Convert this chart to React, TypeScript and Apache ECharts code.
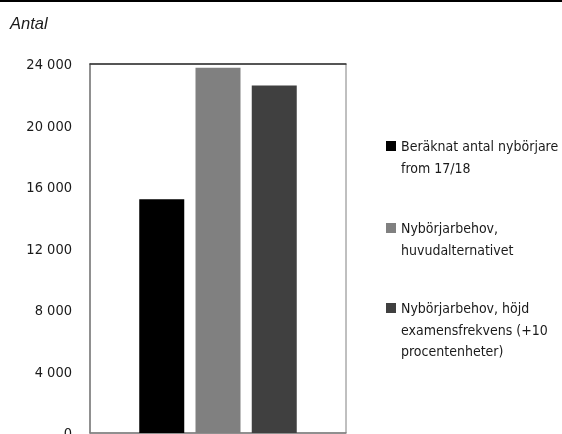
import React, { useEffect, useRef } from "react";
import * as echarts from "echarts";

const categories = [""];
const seriesNames = [
  "Beräknat antal nybörjare from 17/18",
  "Nybörjarbehov, huvudalternativet",
  "Nybörjarbehov, höjd examensfrekvens (+10 procentenheter)",
];
const legendLines = [
  ["Beräknat antal nybörjare", "from 17/18"],
  ["Nybörjarbehov,", "huvudalternativet"],
  ["Nybörjarbehov, höjd", "examensfrekvens (+10", "procentenheter)"],
];
const values = [15200, 23750, 22600];
const colors = ["#000000", "#808080", "#404040"];
const yTicks = { min: 0, max: 24000, interval: 4000 };
const yTitle = "Antal";

const FONT = "'Liberation Sans Narrow', 'DejaVu Sans Condensed', 'Roboto Condensed', 'Liberation Sans', Arial, sans-serif";
const LH = 21.5;
const legendCenters = [146, 228, 308];

export default function App() {
  const ref = useRef<HTMLDivElement>(null);
  useEffect(() => {
    document.body.style.margin = "0";
    const chart = echarts.init(ref.current!, null, { renderer: "svg" });
    const fmtNum = (v: number) => String(v).replace(/\B(?=(\d{3})+(?!\d))/g, " ");
    chart.setOption({
      animation: false,
      grid: {
        left: 90,
        right: 216,
        top: 64,
        bottom: 1,
        show: true,
        borderColor: "#808080",
        borderWidth: 1,
        containLabel: false,
        outerBoundsMode: "none",
      },
      graphic: [
        {
          type: "line",
          shape: { x1: 0, y1: 1, x2: 562, y2: 1 },
          style: { stroke: "#000", lineWidth: 2 },
        },
        {
          type: "text",
          left: 10,
          top: 14,
          style: {
            text: yTitle,
            font: "italic 16.5px 'Liberation Sans', Arial, sans-serif",
            fill: "#1a1a1a",
          },
        },
      ],
      legend: seriesNames.map((name, i) => {
        const n = legendLines[i].length;
        return {
          data: [name],
          left: 386,
          top: legendCenters[i] - (2 * n - 1) * (LH / 2),
          padding: 0,
          itemWidth: 10,
          itemHeight: 10,
          itemGap: 0,
          icon: "rect",
          selectedMode: false,
          formatter: () => "\n".repeat(n - 1) + legendLines[i].join("\n"),
          textStyle: {
            fontFamily: FONT,
            fontSize: 14,
            color: "#1a1a1a",
            lineHeight: LH,
          },
        };
      }),
      xAxis: [
        {
          type: "category",
          data: categories,
          axisLine: { show: true, lineStyle: { color: "#808080", width: 1.5 } },
          axisTick: { show: false },
          axisLabel: { show: false },
        },
        {
          type: "category",
          data: categories,
          position: "top",
          axisLine: { show: true, lineStyle: { color: "#333333", width: 1.5 } },
          axisTick: { show: false },
          axisLabel: { show: false },
        },
      ],
      yAxis: {
        type: "value",
        min: yTicks.min,
        max: yTicks.max,
        interval: yTicks.interval,
        axisLine: { show: true, lineStyle: { color: "#808080", width: 1.5 } },
        axisTick: { show: false },
        splitLine: { show: false },
        axisLabel: {
          margin: 18,
          fontFamily: FONT,
          fontSize: 14.5,
          color: "#1a1a1a",
          formatter: (v: number) => fmtNum(v),
        },
      },
      series: seriesNames.map((name, i) => ({
        name,
        type: "bar",
        xAxisIndex: 0,
        data: [values[i]],
        barWidth: 45,
        barGap: "25%",
        itemStyle: { color: colors[i] },
      })),
    });
    return () => chart.dispose();
  }, []);
  return (
    <div
      ref={ref}
      style={{ position: "fixed", left: 0, top: 0, width: 562, height: 434 }}
    />
  );
}
